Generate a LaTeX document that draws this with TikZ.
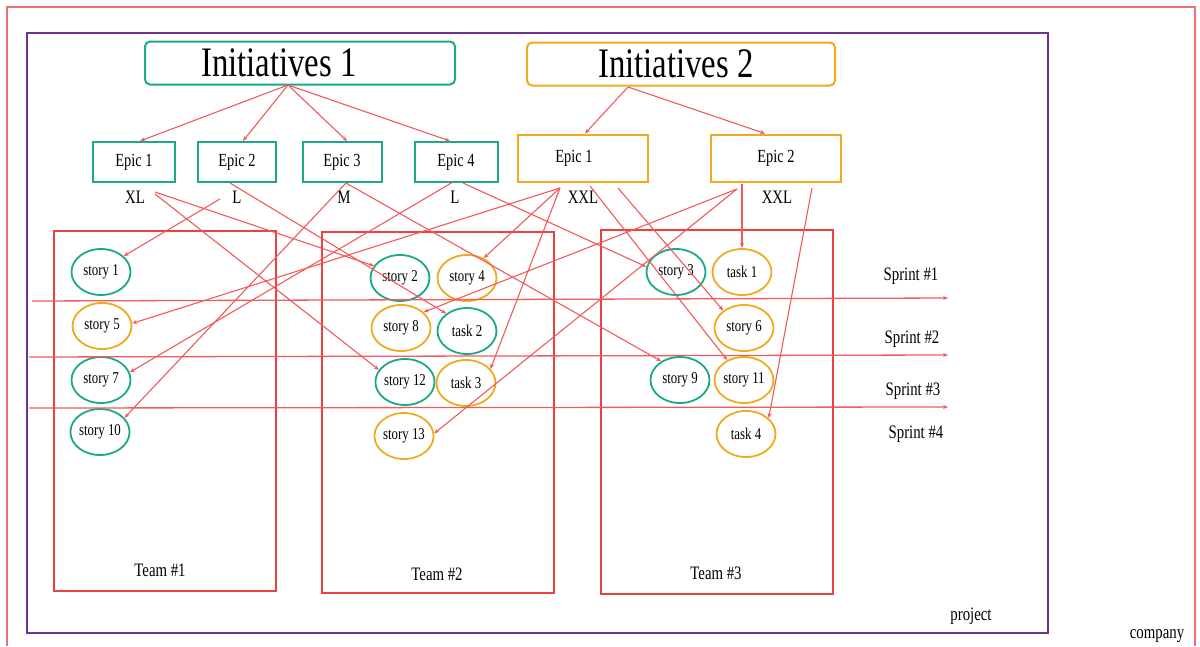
\documentclass[tikz,border=0pt]{standalone}
\usepackage{fontspec}
\setmainfont[FakeStretch=0.78]{Liberation Serif}
\usetikzlibrary{arrows.meta,calc,shapes.geometric}
\definecolor{teal1}{RGB}{28,168,138}
\definecolor{gold1}{RGB}{240,170,30}
\definecolor{red1}{RGB}{240,90,90}
\definecolor{redbox}{RGB}{235,65,65}
\definecolor{redco}{RGB}{240,110,110}
\definecolor{purp}{RGB}{110,50,150}
\newcommand{\fs}[1]{\fontsize{#1}{#1}\selectfont}
\tikzset{
  x=1pt,y=-1pt,
  initbox/.style={draw, line width=2pt, rounded corners=5pt, minimum width=#1, minimum height=43pt, inner sep=0pt, font=\fs{42}},
  epicbox/.style={draw, line width=2pt, inner sep=0pt, font=\fs{18.5}},
  sizelbl/.style={inner sep=0pt, font=\fs{19}},
  item/.style={draw, ellipse, line width=1.8pt, minimum width=59pt, minimum height=46pt, inner sep=0pt, font=\fs{16.5}},
  tealitem/.style={item, draw=teal1},
  golditem/.style={item, draw=gold1},
  teambox/.style={draw=redbox, line width=1.8pt, inner sep=0pt},
  lbl/.style={inner sep=0pt, font=\fs{19}},
  conn/.style={draw=red1, line width=1.1pt, -{Stealth[length=5pt,width=4pt]}},
  sprint/.style={draw=red1, line width=1.3pt, -{Stealth[length=5pt,width=4pt]}},
}
\begin{document}
\begin{tikzpicture}
\useasboundingbox (0,0) rectangle (1200,646);
% company and project frames
\draw[redco, line width=2pt] (7,646) -- (7,7) -- (1195,7) -- (1195,646);
\node[draw=purp, line width=2pt, minimum width=1021pt, minimum height=600pt, inner sep=0pt] (project) at (537.5,333) {};
\node[lbl] (projlbl) at (971,616) {project};
\node[lbl] (complbl) at (1157,636) {company};

% initiatives
\node[initbox=310pt, draw=teal1] (init1) at (300,63) {Initiatives 1\kern42pt};
\node[initbox=308pt, draw=gold1] (init2) at (681,64) {Initiatives 2\kern10pt};

% epics
\node[epicbox, draw=teal1, minimum width=82pt, minimum height=40pt] (e11) at (134,162) {Epic 1};
\node[epicbox, draw=teal1, minimum width=78pt, minimum height=40pt] (e12) at (237,162) {Epic 2};
\node[epicbox, draw=teal1, minimum width=79pt, minimum height=40pt] (e13) at (342,162) {Epic 3};
\node[epicbox, draw=teal1, minimum width=83pt, minimum height=40pt] (e14) at (456,162) {Epic 4};
\node[epicbox, draw=gold1, minimum width=130pt, minimum height=47pt] (e21) at (583,158) {Epic 1\kern18pt};
\node[epicbox, draw=gold1, minimum width=130pt, minimum height=47pt] (e22) at (776,158) {Epic 2};

% sizes
\node[sizelbl] (sz11) at (135,197) {XL};
\node[sizelbl] (sz12) at (237,197) {L};
\node[sizelbl] (sz13) at (344,197) {M};
\node[sizelbl] (sz14) at (455,197) {L};
\node[sizelbl] (sz21) at (583,197) {XXL};
\node[sizelbl] (sz22) at (777,197) {XXL};

% teams
\node[teambox, minimum width=222pt, minimum height=360pt] (team1) at (165,411) {};
\node[teambox, minimum width=232pt, minimum height=361pt] (team2) at (438,412.5) {};
\node[teambox, minimum width=232pt, minimum height=364pt] (team3) at (717,412) {};
\node[lbl] (t1lbl) at (160,570) {Team \#1};
\node[lbl] (t2lbl) at (437,574) {Team \#2};
\node[lbl] (t3lbl) at (716,573) {Team \#3};

% stories / tasks
\node[tealitem] (s1) at (101,272) {story 1};
\node[golditem] (s5) at (102,326) {story 5};
\node[tealitem] (s7) at (101,380) {story 7};
\node[tealitem] (s10) at (100,432) {story 10};

\node[tealitem] (s2) at (400,278) {story 2};
\node[golditem] (s4) at (467,278) {story 4};
\node[golditem] (s8) at (401,328) {story 8};
\node[tealitem] (tk2) at (467,331) {task 2};
\node[tealitem] (s12) at (405,382) {story 12};
\node[golditem] (tk3) at (466,383) {task 3};
\node[golditem] (s13) at (404,436) {story 13};

\node[tealitem] (s3) at (676,272) {story 3};
\node[golditem] (tk1) at (742,272) {task 1};
\node[golditem] (s6) at (744,328) {story 6};
\node[tealitem] (s9) at (680,380) {story 9};
\node[golditem] (s11) at (744,380) {story 11};
\node[golditem] (tk4) at (746,434) {task 4};

% sprint labels and lines
\node[lbl] (sp1) at (911,276) {Sprint \#1};
\node[lbl] (sp2) at (912,339) {Sprint \#2};
\node[lbl] (sp3) at (913,391) {Sprint \#3};
\node[lbl] (sp4) at (916,434) {Sprint \#4};
\coordinate (sp1a) at (32,301); \coordinate (sp1b) at (948,298);
\coordinate (sp2a) at (29,357); \coordinate (sp2b) at (948,355);
\coordinate (sp3a) at (29,408); \coordinate (sp3b) at (948,407);
\draw[sprint] (sp1a) -- (sp1b);
\draw[sprint] (sp2a) -- (sp2b);
\draw[sprint] (sp3a) -- (sp3b);

% initiative -> epic
\coordinate (i1b) at (288,85);
\coordinate (i2b) at (628,87);
\draw[conn] (i1b) -- ($(e11.north)+(6,0)$);
\draw[conn] (i1b) -- ($(e12.north)+(6,0)$);
\draw[conn] (i1b) -- ($(e13.north)+(5,0)$);
\draw[conn] (i1b) -- ($(e14.north)+(-6,0)$);
\draw[conn] (i2b) -- ($(e21.north)+(2,0)$);
\draw[conn] (i2b) -- ($(e22.north)+(-11,0)$);

% epic -> items
\coordinate (cxl) at (155,192);
\coordinate (cxl2) at (155,194);
\coordinate (cl1) at (220,199);
\coordinate (c12) at (230,183);
\coordinate (c13) at (346,183);
\coordinate (c14a) at (453,182);
\coordinate (c14b) at (463,183);
\coordinate (c21a) at (560,188);
\coordinate (c21b) at (590,186);
\coordinate (c21c) at (618,188);
\coordinate (c22a) at (737,189);
\coordinate (c22b) at (742,184);
\coordinate (c22c) at (812,188);

\draw[conn] (cxl) -- (s2.155);
\draw[conn] (cxl2) -- (s12.155);
\draw[conn] (cl1) -- (s1.35);
\draw[conn] (c12) -- (tk2.140);
\draw[conn] (c13) -- (s10.30);
\draw[conn] (c13) -- (s9.135);
\draw[conn] (c14a) -- (s7.15);
\draw[conn] (c14b) -- (s3.170);
\draw[conn] (c21a) -- (s5.5);
\draw[conn] (c21a) -- (s4.50);
\draw[conn] (c21a) -- (tk3.30);
\draw[conn] (c21b) -- (s11.130);
\draw[conn] (c21c) -- (s6.140);
\draw[conn] (c22a) -- (s8.35);
\draw[conn] (c22a) -- (s13.5);
\draw[conn] (c22b) -- (tk1.north);
\draw[conn] (c22c) -- (tk4.35);
\end{tikzpicture}
\end{document}
